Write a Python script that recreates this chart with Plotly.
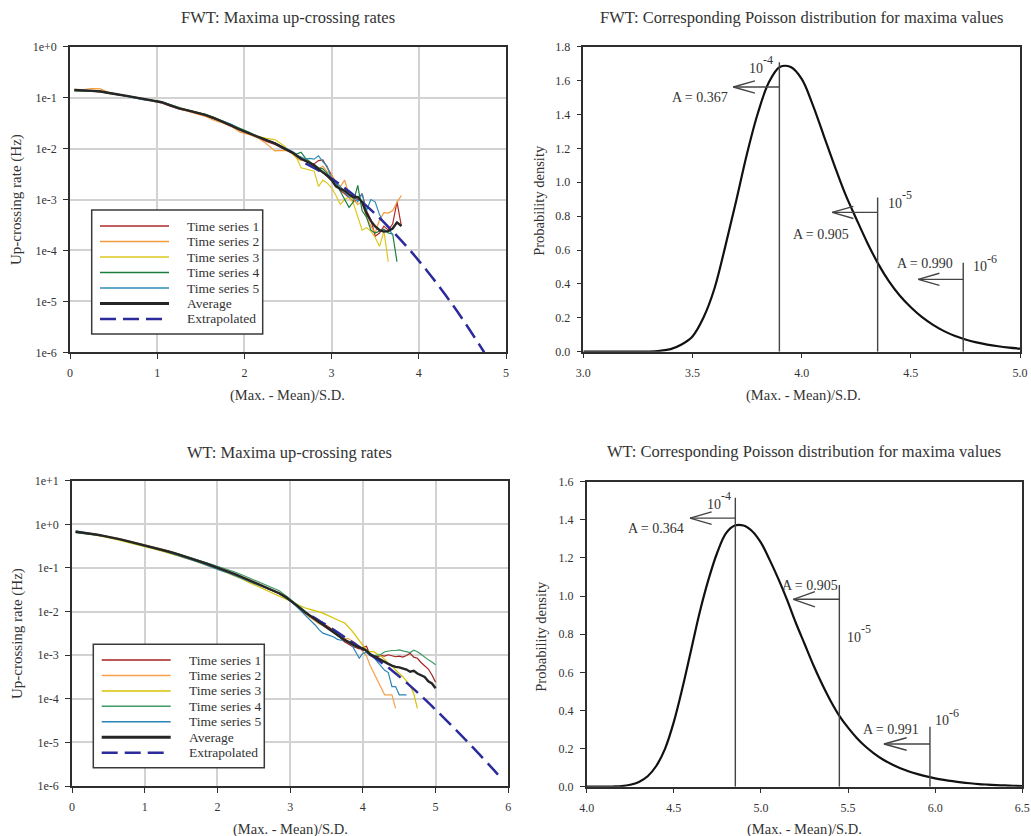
import plotly.graph_objects as go

FONT = "Liberation Serif"
TXT = "#333333"
W, H = 1031, 836

# ---------------- FWT: maxima up-crossing rates (Hz) ----------------
fwt_x = [0.05, 0.15, 0.25, 0.35, 0.45, 0.55, 0.65, 0.75, 0.85, 0.95, 1.05, 1.15, 1.25,
         1.35, 1.45, 1.55, 1.65, 1.75, 1.85, 1.95, 2.05, 2.15, 2.25, 2.35, 2.45,
         2.5, 2.55, 2.6, 2.65, 2.7, 2.75, 2.8, 2.85, 2.9, 2.95, 3.0, 3.05, 3.1, 3.15,
         3.2, 3.25, 3.3, 3.35, 3.4, 3.45, 3.5, 3.55, 3.6, 3.65, 3.7, 3.75, 3.8]

fwt_ts1 = [0.143, 0.139, 0.135, 0.130, 0.121, 0.114, 0.107, 0.101, 0.095, 0.086, 0.079, 0.068,
           0.060, 0.055, 0.050, 0.044, 0.038, 0.033, 0.028, 0.023, 0.0195, 0.0160, 0.0138,
           0.0120, 0.0100,
           0.0090, 0.0080, 0.0070, 0.0062, 0.0058, 0.0052, 0.0050, 0.0058, 0.0060, 0.0042,
           0.0030, 0.0020, 0.0015, 0.0013, 0.0011, 0.0009, 0.0010, 0.0013, 0.0006, 0.0004,
           0.00019, 0.00022, 0.00030, 0.00025, 0.00033, 0.00090, 0.00030]
fwt_ts2 = [0.146, 0.143, 0.150, 0.148, 0.125, 0.117, 0.108, 0.099, 0.092, 0.088, 0.080, 0.070,
           0.060, 0.054, 0.049, 0.043, 0.036, 0.032, 0.027, 0.021, 0.0190, 0.0165, 0.0125,
           0.0090, 0.0092,
           0.0090, 0.0080, 0.0065, 0.0058, 0.0062, 0.0055, 0.0045, 0.0040, 0.0045, 0.0035,
           0.0030, 0.0022, 0.0018, 0.0024, 0.0012, 0.0010, 0.0008, 0.0009, 0.00045, 0.00030,
           0.00022, 0.00040, 0.00055, 0.00054, 0.00060, 0.00088, 0.00120]
fwt_ts3 = [0.139, 0.138, 0.134, 0.131, 0.120, 0.116, 0.110, 0.102, 0.094, 0.089, 0.084, 0.073,
           0.064, 0.057, 0.052, 0.047, 0.041, 0.035, 0.029, 0.024, 0.0205, 0.0175, 0.0158,
           0.0150, 0.0115,
           0.0095, 0.0082, 0.0065, 0.0042, 0.0040, 0.0039, 0.0036, 0.0018, 0.0024, 0.0021,
           0.0017, 0.0012, 0.0008, 0.0010, 0.00112, 0.00084, 0.00045, 0.00025, 0.00028,
           0.00024, 0.00018, 0.00012, 0.00024, 0.00006]
fwt_ts4 = [0.136, 0.137, 0.134, 0.134, 0.125, 0.116, 0.107, 0.098, 0.092, 0.087, 0.082, 0.072,
           0.062, 0.057, 0.052, 0.047, 0.041, 0.035, 0.029, 0.025, 0.0210, 0.0172, 0.0150,
           0.0128, 0.0104,
           0.0095, 0.0085, 0.0078, 0.0085, 0.0065, 0.0055, 0.0048, 0.0042, 0.0040, 0.0033,
           0.0026, 0.0021, 0.0014, 0.0010, 0.0007, 0.0009, 0.0019, 0.0006, 0.00045, 0.00025,
           0.00022, 0.00024, 0.00026, 0.00022, 0.00021, 0.00006]
fwt_ts5 = [0.140, 0.141, 0.137, 0.133, 0.124, 0.114, 0.106, 0.097, 0.090, 0.087, 0.084, 0.073,
           0.063, 0.056, 0.051, 0.046, 0.040, 0.035, 0.030, 0.024, 0.0205, 0.0168, 0.0150,
           0.0130, 0.0106,
           0.0098, 0.0088, 0.0075, 0.0068, 0.0062, 0.0064, 0.0062, 0.0072, 0.0055, 0.0045,
           0.0025, 0.0021, 0.0018, 0.0014, 0.0011, 0.0012, 0.0009, 0.0013, 0.0006, 0.0010,
           0.0009, 0.0005, 0.00035, 0.00028, 0.00020]
fwt_avg = [0.141, 0.140, 0.136, 0.132, 0.122, 0.115, 0.108, 0.100, 0.0933, 0.0871, 0.0813,
           0.0708, 0.0617, 0.0562, 0.0513, 0.0457, 0.0398, 0.0339, 0.0282, 0.0234, 0.0200,
           0.0170, 0.0148, 0.0126, 0.0102,
           0.00933, 0.00832, 0.00724, 0.00631, 0.00575, 0.00525, 0.00468, 0.00398, 0.00347,
           0.00295, 0.00240, 0.00182, 0.00162, 0.00148, 0.00126, 0.00110, 0.00112, 0.00089,
           0.00054, 0.00038, 0.000295, 0.000251, 0.000234, 0.000240, 0.000269, 0.000355,
           0.000302]
fwt_ext_x = [2.7, 2.9, 3.1, 3.3, 3.5, 3.7, 3.9, 4.1, 4.3, 4.5, 4.75]
fwt_ext_y = [0.00513, 0.00333, 0.00195, 0.00105, 0.000522, 0.000238, 0.0001, 3.87e-5,
             1.38e-5, 4.52e-6, 1.0e-6]

# ---------------- WT: maxima up-crossing rates (Hz) ----------------
wt_x = [0.05, 0.15, 0.25, 0.35, 0.45, 0.55, 0.65, 0.75, 0.85, 0.95, 1.05, 1.15, 1.25, 1.35,
        1.45, 1.55, 1.65, 1.75, 1.85, 1.95, 2.05, 2.15, 2.25, 2.35, 2.45, 2.55, 2.65, 2.75,
        2.85, 2.95,
        3.0, 3.05, 3.1, 3.15, 3.2, 3.25, 3.3, 3.35, 3.4, 3.45, 3.5, 3.55, 3.6, 3.65, 3.7,
        3.75, 3.8, 3.85, 3.9, 3.95, 4.0, 4.05, 4.1, 4.15, 4.2, 4.25, 4.3, 4.35, 4.4, 4.45,
        4.5, 4.55, 4.6, 4.65, 4.7, 4.75, 4.8, 4.85, 4.9, 4.95, 5.0]

wt_ts1 = [0.67, 0.645, 0.61, 0.572, 0.535, 0.50, 0.458, 0.418, 0.382, 0.350, 0.318, 0.287,
          0.258, 0.233, 0.208, 0.185, 0.163, 0.144, 0.127, 0.108, 0.0935, 0.0815, 0.070,
          0.0595, 0.0505, 0.0430, 0.0365, 0.0300, 0.0255, 0.0200,
          0.0178, 0.0150, 0.0128, 0.0108, 0.0090, 0.0080, 0.0072, 0.0063, 0.0056, 0.0052,
          0.0048, 0.0042, 0.0034, 0.0029, 0.0024, 0.0020, 0.0018, 0.0016, 0.0015, 0.0014,
          0.0015, 0.0016, 0.0010, 0.00095, 0.00093, 0.00098, 0.00095, 0.00102, 0.00098,
          0.00092, 0.00095, 0.00090, 0.00098, 0.0011, 0.00090, 0.00085, 0.00068, 0.00058,
          0.00048, 0.00035, 0.00024]
wt_ts2 = [0.66, 0.64, 0.61, 0.578, 0.545, 0.51, 0.468, 0.428, 0.392, 0.358, 0.327, 0.295,
          0.266, 0.240, 0.213, 0.188, 0.165, 0.146, 0.130, 0.112, 0.0970, 0.0850, 0.0740,
          0.0630, 0.0535, 0.0450, 0.0380, 0.0315, 0.0265, 0.0205,
          0.0180, 0.0152, 0.0130, 0.0108, 0.0092, 0.0078, 0.0068, 0.0058, 0.0052, 0.0048,
          0.0042, 0.0036, 0.0032, 0.0028, 0.0025, 0.0024, 0.0024, 0.0021, 0.0019, 0.0015,
          0.0012, 0.00095, 0.00058, 0.00040, 0.00028, 0.00019, 0.000123, 0.000123,
          0.000123, 0.00006]
wt_ts3 = [0.66, 0.635, 0.598, 0.560, 0.520, 0.480, 0.435, 0.392, 0.352, 0.316, 0.290, 0.265,
          0.240, 0.215, 0.193, 0.172, 0.150, 0.132, 0.117, 0.100, 0.0875, 0.0755, 0.0645,
          0.0545, 0.0455, 0.0380, 0.0320, 0.0265, 0.0230, 0.0190,
          0.0170, 0.0158, 0.0145, 0.0130, 0.0122, 0.0115, 0.0110, 0.0105, 0.0098, 0.0092,
          0.0084, 0.0076, 0.0068, 0.0063, 0.0059, 0.0055, 0.0045, 0.0036, 0.0028, 0.0022,
          0.0017, 0.0013, 0.0012, 0.0012, 0.00105, 0.00095, 0.00080, 0.00065, 0.00056,
          0.00045, 0.00038, 0.00032, 0.00025, 0.00020, 0.00013, 0.00006]
wt_ts4 = [0.64, 0.62, 0.59, 0.565, 0.53, 0.495, 0.455, 0.418, 0.382, 0.350, 0.320, 0.290,
          0.262, 0.238, 0.213, 0.190, 0.168, 0.150, 0.133, 0.116, 0.102, 0.0905, 0.0795,
          0.0680, 0.0580, 0.0500, 0.0430, 0.0360, 0.0300, 0.0225,
          0.0190, 0.0165, 0.0142, 0.0122, 0.0105, 0.0090, 0.0076, 0.0064, 0.0056, 0.0050,
          0.0044, 0.0038, 0.0033, 0.0028, 0.0025, 0.0022, 0.0021, 0.0020, 0.0018, 0.0016,
          0.0014, 0.0012, 0.0010, 0.00095, 0.00098, 0.00105, 0.0012, 0.00125, 0.00128,
          0.00128, 0.00132, 0.00125, 0.0012, 0.00115, 0.0013, 0.0012, 0.00105, 0.00090,
          0.00078, 0.00070, 0.00060]
wt_ts5 = [0.71, 0.67, 0.625, 0.580, 0.538, 0.500, 0.455, 0.412, 0.375, 0.340, 0.308, 0.278,
          0.248, 0.222, 0.197, 0.174, 0.152, 0.133, 0.116, 0.099, 0.0860, 0.0765, 0.0660,
          0.0570, 0.0490, 0.0420, 0.0360, 0.0305, 0.0260, 0.0205,
          0.0175, 0.0150, 0.0125, 0.0102, 0.0085, 0.0070, 0.0060, 0.0048, 0.0038, 0.0032,
          0.0030, 0.0028, 0.0026, 0.0023, 0.0022, 0.0022, 0.0019, 0.0017, 0.0012, 0.00085,
          0.0011, 0.00115, 0.00098, 0.00090, 0.00070, 0.00055, 0.00045, 0.00040, 0.00019,
          0.00019, 0.000123, 0.000123, 0.000123]
wt_avg = [0.676, 0.646, 0.610, 0.575, 0.537, 0.501, 0.457, 0.417, 0.380, 0.347, 0.316, 0.285,
          0.257, 0.232, 0.207, 0.184, 0.162, 0.143, 0.126, 0.108, 0.0944, 0.0822, 0.0708,
          0.0603, 0.0513, 0.0437, 0.0372, 0.0309, 0.0263, 0.0209,
          0.0182, 0.0158, 0.0135, 0.0115, 0.00977, 0.00851, 0.00741, 0.00646, 0.00562,
          0.00501, 0.00437, 0.00380, 0.00331, 0.00288, 0.00251, 0.00224, 0.00200, 0.00178,
          0.00162, 0.00151, 0.00141, 0.00126, 0.00105, 0.000955, 0.000851, 0.000776,
          0.000708, 0.000631, 0.000575, 0.000537, 0.000525, 0.000490, 0.000468, 0.000417,
          0.000437, 0.000380, 0.000339, 0.000316, 0.000251, 0.000224, 0.000174]
wt_ext_x = [3.3, 3.4, 3.6, 3.8, 4.0, 4.2, 4.4, 4.6, 4.8, 5.0, 5.2, 5.4, 5.6, 5.8, 5.9]
wt_ext_y = [0.00776, 0.00617, 0.00380, 0.00229, 0.00135, 0.000794, 0.000447, 0.000234,
            0.000117, 5.62e-5, 2.63e-5, 1.20e-5, 5.37e-6, 2.34e-6, 1.51e-6]

# ---------------- Poisson distributions of maxima ----------------
fwt_pdf_x = [3.0, 3.05, 3.1, 3.15, 3.2, 3.25, 3.3, 3.35, 3.4, 3.45, 3.5, 3.55, 3.6, 3.65,
             3.7, 3.75, 3.8, 3.85, 3.9, 3.95, 4.0, 4.05, 4.1, 4.15, 4.2, 4.25, 4.3, 4.35,
             4.4, 4.45, 4.5, 4.55, 4.6, 4.65, 4.7, 4.75, 4.8, 4.85, 4.9, 4.95, 5.0]
fwt_pdf_y = [0, 0, 0, 0, 0, 0.0005, 0.001, 0.005, 0.015, 0.042, 0.09, 0.20, 0.37, 0.62,
             0.89, 1.17, 1.41, 1.59, 1.68, 1.68, 1.61, 1.46, 1.28, 1.10, 0.93, 0.785, 0.645,
             0.52, 0.415, 0.33, 0.262, 0.205, 0.160, 0.123, 0.094, 0.072, 0.055, 0.042,
             0.032, 0.024, 0.018]
wt_pdf_x = [4.0, 4.05, 4.1, 4.15, 4.2, 4.25, 4.3, 4.35, 4.4, 4.45, 4.5, 4.55, 4.6, 4.65,
            4.7, 4.75, 4.8, 4.85, 4.9, 4.95, 5.0, 5.05, 5.1, 5.15, 5.2, 5.25, 5.3, 5.35,
            5.4, 5.45, 5.5, 5.55, 5.6, 5.65, 5.7, 5.75, 5.8, 5.85, 5.9, 5.95, 6.0, 6.05,
            6.1, 6.15, 6.2, 6.25, 6.3, 6.35, 6.4, 6.45, 6.5]
wt_pdf_y = [0, 0, 0.0003, 0.001, 0.003, 0.01, 0.025, 0.055, 0.11, 0.20, 0.34, 0.52, 0.72,
            0.92, 1.09, 1.23, 1.33, 1.37, 1.37, 1.34, 1.28, 1.19, 1.09, 0.98, 0.86, 0.75,
            0.64, 0.54, 0.45, 0.372, 0.31, 0.256, 0.211, 0.174, 0.143, 0.118, 0.097, 0.080,
            0.066, 0.054, 0.044, 0.036, 0.029, 0.023, 0.018, 0.014, 0.011, 0.0085, 0.0065,
            0.005, 0.0038]

# threshold markers
fwt_levels_x = [3.898, 4.348, 4.740]
wt_levels_x = [4.853, 5.450, 5.970]
level_exps = ["-4", "-5", "-6"]
fwt_A = ["A = 0.367", "A = 0.905", "A = 0.990"]
wt_A = ["A = 0.364", "A = 0.905", "A = 0.991"]

series_names = ["Time series 1", "Time series 2", "Time series 3", "Time series 4",
                "Time series 5", "Average", "Extrapolated"]
fwt_colors = ["#b02a2a", "#f39a3c", "#dcc81e", "#1c7d3e", "#2e8db5"]
wt_colors = ["#a52020", "#f6a04e", "#d6c200", "#3f9a66", "#2a84b6"]
AVG_C = "#262626"
EXT_C = "#2b2b9c"

fig = go.Figure()


def line(xs, ys, color, width, xa, ya, dash=None, shape="linear"):
    fig.add_trace(go.Scatter(x=xs[:len(ys)], y=ys, mode="lines",
                             line=dict(color=color, width=width, dash=dash, shape=shape),
                             xaxis=xa, yaxis=ya, showlegend=False, hoverinfo="skip"))


for ys, c in zip([fwt_ts1, fwt_ts2, fwt_ts3, fwt_ts4, fwt_ts5], fwt_colors):
    line(fwt_x, ys, c, 1.2, "x", "y")
line(fwt_ext_x, fwt_ext_y, EXT_C, 2.5, "x", "y", dash="16px,7px", shape="spline")
line(fwt_x, fwt_avg, AVG_C, 2.4, "x", "y")

for ys, c in zip([wt_ts1, wt_ts2, wt_ts3, wt_ts4, wt_ts5], wt_colors):
    line(wt_x, ys, c, 1.2, "x3", "y3")
line(wt_ext_x, wt_ext_y, EXT_C, 2.5, "x3", "y3", dash="16px,7px", shape="spline")
line(wt_x, wt_avg, AVG_C, 2.4, "x3", "y3")

line(fwt_pdf_x, fwt_pdf_y, "#111111", 2.2, "x2", "y2", shape="spline")
line(wt_pdf_x, wt_pdf_y, "#111111", 2.2, "x4", "y4", shape="spline")


def px_x(p):
    return p / W


def px_y(p):
    return (H - p) / H


tickfont = dict(family=FONT, size=12, color=TXT)
base = dict(showline=True, linecolor="#2e2e2e", linewidth=1.5, mirror=True,
            ticks="outside", ticklen=5, tickwidth=1.2, tickcolor="#2e2e2e",
            tickfont=tickfont, zeroline=False, ticklabelstandoff=4, automargin=False)
grid = dict(showgrid=True, gridcolor="#d2d2d2", gridwidth=1.5)

dec6 = [1, 0.1, 0.01, 0.001, 1e-4, 1e-5, 1e-6]
dec6_t = ["1e+0", "1e-1", "1e-2", "1e-3", "1e-4", "1e-5", "1e-6"]
dec7 = [10] + dec6
dec7_t = ["1e+1"] + dec6_t

fig.update_layout(
    width=W, height=H, margin=dict(l=0, r=0, t=0, b=0, autoexpand=False),
    paper_bgcolor="white", plot_bgcolor="white", showlegend=False,
    font=dict(family=FONT, color=TXT),
    xaxis=dict(domain=[px_x(70), px_x(506)], range=[0, 5], dtick=1, anchor="y", **base, **grid),
    yaxis=dict(domain=[px_y(352.3), px_y(46.7)], type="log", range=[-6, 0], tickvals=dec6,
               ticktext=dec6_t, anchor="x", **base, **grid),
    xaxis2=dict(domain=[px_x(583.3), px_x(1020)], range=[3, 5], dtick=0.5, tickformat=".1f",
                anchor="y2", showgrid=False, **base),
    yaxis2=dict(domain=[px_y(351.7), px_y(46.7)], range=[0, 1.8], dtick=0.2, tickformat=".1f",
                anchor="x2", showgrid=False, **base),
    xaxis3=dict(domain=[px_x(72), px_x(508.3)], range=[0, 6], dtick=1, anchor="y3", **base, **grid),
    yaxis3=dict(domain=[px_y(786), px_y(480.7)], type="log", range=[-6, 1], tickvals=dec7,
                ticktext=dec7_t, anchor="x3", **base, **grid),
    xaxis4=dict(domain=[px_x(586.7), px_x(1022.3)], range=[4, 6.5], dtick=0.5, tickformat=".1f",
                anchor="y4", showgrid=False, **base),
    yaxis4=dict(domain=[px_y(786.7), px_y(481.7)], range=[0, 1.6], dtick=0.2, tickformat=".1f",
                anchor="x4", showgrid=False, **base),
)

ann = []
shapes = []


def text(x, y, s, size, xref="paper", yref="paper", xanchor="center", angle=0,
         yanchor="middle", xshift=0, yshift=0):
    ann.append(dict(x=x, y=y, xref=xref, yref=yref, text=s, showarrow=False,
                    xanchor=xanchor, yanchor=yanchor, textangle=angle,
                    xshift=xshift, yshift=yshift,
                    font=dict(family=FONT, size=size, color=TXT)))


# titles
TS = 16.5
text(px_x(288), px_y(18), "FWT: Maxima up-crossing rates", TS)
text(px_x(801.7), px_y(17.5), "FWT: Corresponding Poisson distribution for maxima values", TS)
text(px_x(289.3), px_y(452.7), "WT: Maxima up-crossing rates", TS)
text(px_x(804.3), px_y(451.7), "WT: Corresponding Poisson distribution for maxima values", TS)
# axis titles
xt = "(Max. - Mean)/S.D."
AS = 14.5
text(px_x(287.5), px_y(395), xt, AS)
text(px_x(803.7), px_y(395), xt, AS)
text(px_x(290), px_y(829), xt, AS)
text(px_x(804.7), px_y(829), xt, AS)
text(px_x(16), px_y(200), "Up-crossing rate (Hz)", 15, angle=-90)
text(px_x(539), px_y(200.8), "Probability density", 14.5, angle=-90)
text(px_x(17), px_y(634), "Up-crossing rate (Hz)", 15, angle=-90)
text(px_x(541), px_y(636.7), "Probability density", 14.5, angle=-90)


# manual legends
def legend(box, line_x0, line_x1, text_x, row0, step, colors):
    x0, y0, x1, y1 = box
    shapes.append(dict(type="rect", xref="paper", yref="paper", x0=px_x(x0), x1=px_x(x1),
                       y0=px_y(y1), y1=px_y(y0), fillcolor="white",
                       line=dict(color="#3a3a3a", width=1.5), layer="above"))
    styles = [(c, 1.5, "solid") for c in colors] + [(AVG_C, 3, "solid"), (EXT_C, 2.5, "16px,7px")]
    for i, (name, (c, w, d)) in enumerate(zip(series_names, styles)):
        py = row0 + i * step
        shapes.append(dict(type="line", xref="paper", yref="paper", x0=px_x(line_x0),
                           x1=px_x(line_x1), y0=px_y(py), y1=px_y(py),
                           line=dict(color=c, width=w, dash=d), layer="above"))
        text(px_x(text_x), px_y(py), name, 13.5, xanchor="left")


legend((91.7, 210, 262.7, 334), 100, 169, 185, 226, 15.5, fwt_colors)
legend((93.3, 644.3, 264.3, 767.7), 101.7, 170.7, 187, 660, 15.45, wt_colors)


# threshold markers on the density plots
def marker(xa, ya, xl, top, ay, tip, back, dy, col="#444444"):
    for (a, b, c, d) in [(xl, 0, xl, top), (xl, ay, tip, ay), (tip, ay, back, ay + dy),
                         (tip, ay, back, ay - dy)]:
        shapes.append(dict(type="line", xref=xa, yref=ya, x0=a, y0=b, x1=c, y1=d,
                           line=dict(color=col, width=1.4), layer="above"))


marker("x2", "y2", fwt_levels_x[0], 1.708, 1.562, 3.687, 3.786, 0.036)
marker("x2", "y2", fwt_levels_x[1], 0.91, 0.822, 4.140, 4.237, 0.036)
marker("x2", "y2", fwt_levels_x[2], 0.525, 0.427, 4.534, 4.631, 0.036)
marker("x4", "y4", wt_levels_x[0], 1.516, 1.409, 4.593, 4.717, 0.033)
marker("x4", "y4", wt_levels_x[1], 1.058, 0.983, 5.186, 5.310, 0.040)
marker("x4", "y4", wt_levels_x[2], 0.315, 0.224, 5.706, 5.836, 0.033)


def power_label(x, y, exp, xa, ya):
    text(x, y, "10", 14, xa, ya, xanchor="left")
    text(x, y, exp, 12, xa, ya, xanchor="left", xshift=14, yshift=8)


MS = 14
power_label(3.748, 1.673, level_exps[0], "x2", "y2")
text(3.534, 1.50, fwt_A[0], MS, "x2", "y2")
power_label(4.385, 0.875, level_exps[1], "x2", "y2")
text(4.089, 0.692, fwt_A[1], MS, "x2", "y2")
text(4.563, 0.521, fwt_A[2], MS, "x2", "y2")
power_label(4.774, 0.502, level_exps[2], "x2", "y2")

power_label(4.679, 1.483, level_exps[0], "x4", "y4")
text(4.398, 1.355, wt_A[0], MS, "x4", "y4")
text(5.280, 1.058, wt_A[1], MS, "x4", "y4")
power_label(5.482, 0.783, level_exps[1], "x4", "y4")
text(5.745, 0.300, wt_A[2], MS, "x4", "y4")
power_label(5.989, 0.346, level_exps[2], "x4", "y4")

fig.update_layout(annotations=ann, shapes=shapes)
fig.write_html("out.html")
